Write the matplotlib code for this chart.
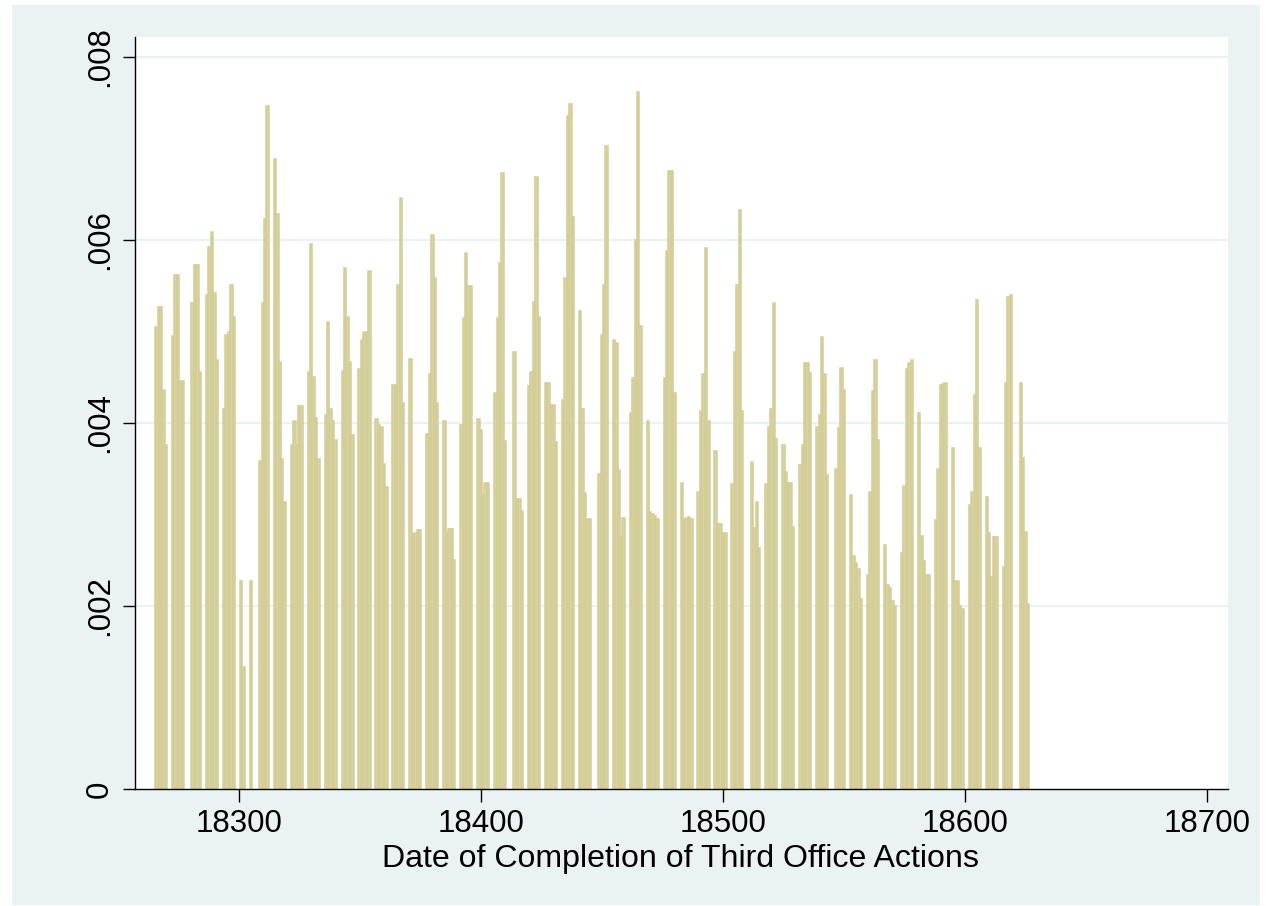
import matplotlib
matplotlib.use("Agg")
import matplotlib.pyplot as plt
from matplotlib.patches import Rectangle

plt.rcParams['font.family'] = ['Liberation Sans', 'DejaVu Sans']

# --- data: share of third office actions per working day (x 0.001) ---
# one row per week, Monday..Friday; 0 = office closed (holiday / snow)
first_monday = 18266   # Stata daily date, 4 Jan 2010
weekly_density = [
    [5.05, 5.27, 5.27, 4.36, 3.76],
    [4.95, 5.62, 5.62, 4.46, 4.46],
    [0, 5.31, 5.72, 5.72, 4.55],
    [5.40, 5.92, 6.08, 5.42, 4.69],
    [4.15, 4.96, 4.99, 5.51, 5.16],
    [2.27, 1.33, 0, 0, 2.27],
    [0, 3.58, 5.31, 6.23, 7.46],
    [6.88, 6.28, 4.66, 3.61, 3.13],
    [3.76, 4.02, 3.76, 4.18, 4.18],
    [4.55, 5.95, 4.50, 4.05, 3.60],
    [4.09, 5.10, 4.15, 4.02, 3.81],
    [4.57, 5.69, 5.16, 4.66, 3.87],
    [4.59, 4.90, 4.99, 4.99, 5.66],
    [4.04, 3.98, 3.95, 3.55, 3.30],
    [4.41, 4.41, 5.51, 6.46, 4.22],
    [4.70, 2.79, 2.80, 2.83, 2.83],
    [3.88, 4.53, 6.05, 5.58, 4.22],
    [4.02, 2.80, 2.84, 2.84, 2.50],
    [3.98, 5.15, 5.86, 5.49, 5.49],
    [4.04, 3.92, 3.21, 3.34, 3.34],
    [4.33, 5.15, 5.75, 6.73, 3.80],
    [0, 4.77, 3.17, 3.17, 3.04],
    [4.40, 4.56, 5.32, 6.69, 5.16],
    [4.43, 4.43, 4.20, 4.20, 3.79],
    [4.25, 5.58, 7.35, 7.48, 6.25],
    [5.22, 4.15, 3.23, 2.95, 2.95],
    [0, 3.44, 4.96, 5.51, 7.02],
    [4.91, 4.87, 3.48, 2.75, 2.96],
    [4.11, 4.49, 6.00, 7.61, 5.06],
    [4.02, 3.03, 3.00, 2.98, 2.95],
    [4.49, 5.88, 6.75, 6.75, 4.33],
    [3.34, 2.94, 2.96, 2.97, 2.95],
    [3.24, 4.13, 4.53, 5.91, 4.02],
    [3.69, 2.90, 2.90, 2.80, 2.80],
    [3.33, 4.77, 5.51, 6.32, 4.13],
    [0, 3.57, 2.85, 3.13, 2.63],
    [3.33, 3.95, 4.15, 5.31, 3.82],
    [3.76, 3.46, 3.34, 3.34, 2.86],
    [3.54, 3.76, 4.65, 4.65, 4.54],
    [3.96, 4.09, 4.94, 4.53, 3.43],
    [0, 3.50, 3.94, 4.60, 4.36],
    [3.21, 2.54, 2.47, 2.40, 2.08],
    [2.34, 3.24, 4.35, 4.69, 3.81],
    [2.67, 2.23, 2.20, 2.05, 2.00],
    [2.58, 3.31, 4.59, 4.65, 4.69],
    [4.11, 2.76, 2.49, 2.34, 2.34],
    [2.94, 3.50, 4.41, 4.42, 4.43],
    [3.72, 2.27, 2.27, 2.00, 1.97],
    [3.10, 3.24, 4.30, 5.34, 3.73],
    [3.19, 2.80, 2.32, 2.75, 2.75],
    [2.43, 4.44, 5.38, 5.40, 0],
    [4.43, 3.62, 2.81, 2.02],
]

x_ticks = [18300, 18400, 18500, 18600, 18700]
y_ticks = [0, 0.002, 0.004, 0.006, 0.008]
y_ticklabels = ['0', '.002', '.004', '.006', '.008']
x_title = 'Date of Completion of Third Office Actions'

# --- build day / density lists ---
dates = []
density = []
for k, week in enumerate(weekly_density):
    for j, v in enumerate(week):
        if v > 0:
            dates.append(first_monday + 7 * k + j)
            density.append(v * 0.001)

# --- figure ---
fig = plt.figure(figsize=(12.66, 9.06), dpi=100, facecolor='white')
fig.patches.append(Rectangle((12 / 1266, 1 / 906), 1248 / 1266, 900 / 906,
                             transform=fig.transFigure, facecolor='#eaf2f3',
                             edgecolor='none', zorder=-5))

ax = fig.add_axes([135 / 1266, 1 - 789 / 906, (1228 - 135) / 1266, (789 - 37) / 906])
ax.set_zorder(1)
ax.set_facecolor('white')

# bar outlines in the fill colour so that the days of one week merge into a block
ax.bar(dates, density, width=1.0, align='center', color='#d8d3a0',
       edgecolor='#d3cd98', linewidth=1.1, zorder=2)

ax.set_xlim(18257.2, 18708.6)
ax.set_ylim(0, 0.008215)

ax.set_xticks(x_ticks)
ax.set_xticklabels([str(t) for t in x_ticks], fontsize=22.5)
ax.set_yticks(y_ticks)
ax.set_yticklabels(y_ticklabels, fontsize=22.5, rotation=90, va='center')

for t in y_ticks[1:]:
    ax.axhline(t, color='#eaf2f3', linewidth=1.6, zorder=1)

for side in ['top', 'right']:
    ax.spines[side].set_visible(False)
for side in ['left', 'bottom']:
    ax.spines[side].set_color('black')
    ax.spines[side].set_linewidth(1.0)

ax.tick_params(axis='x', length=9.4, width=1.0, pad=5)
ax.tick_params(axis='y', length=8.6, width=1.0, pad=6)

fig.text(681 / 1266, 1 - 859 / 906, x_title, fontsize=23.1,
         ha='center', va='center')

fig.savefig('out.png', dpi=100, facecolor='white')
